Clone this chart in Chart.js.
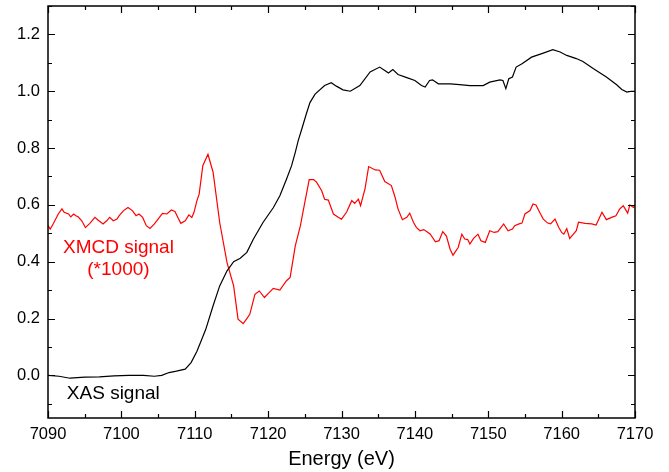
<!DOCTYPE html>
<html>
<head>
<meta charset="utf-8">
<script src="https://cdn.jsdelivr.net/npm/chart.js@4.4.1/dist/chart.umd.min.js"></script>
<style>
  html, body { margin: 0; padding: 0; background: #fff; }
  #chart { display: block; }
</style>
</head>
<body>
<canvas id="chart" width="669" height="472"></canvas>
<script>
// XAS (normalised absorption) vs energy
const xasEnergy = [
  7090, 7091.5, 7093, 7095, 7097, 7099, 7101, 7103, 7104.5, 7105.5,
  7106.5, 7107.5, 7108.7, 7109.5, 7110.3, 7111.0, 7111.5, 7112.5, 7113.4, 7114.4,
  7115.3, 7116.2, 7117.1, 7118.0, 7119.3, 7120.7, 7121.6, 7122.5, 7123.2, 7123.7,
  7124.1, 7124.6, 7125.2, 7125.7, 7126.4, 7127.7, 7128.6, 7129.3, 7130.2, 7131.2,
  7132.5, 7133.9, 7135.2, 7135.9, 7136.4, 7137.0, 7137.7, 7138.9, 7140.0, 7140.9,
  7141.4, 7142.0, 7142.4, 7143.2, 7144.8, 7146.1, 7147.5, 7149.3, 7150.2, 7151.6,
  7152.0, 7152.4, 7152.8, 7153.3, 7153.8, 7154.6, 7155.9, 7157.5, 7158.8, 7159.8,
  7160.7, 7162.0, 7162.9, 7164.3, 7166.1, 7167.5, 7168.2, 7168.9, 7169.5, 7170];
const xasValue = [
  0.0, -0.003, -0.01, -0.006, -0.005, -0.002, 0.0, 0.0, -0.003, 0.0,
  0.01, 0.015, 0.022, 0.045, 0.085, 0.13, 0.162, 0.245, 0.315, 0.368,
  0.40, 0.412, 0.433, 0.48, 0.538, 0.59, 0.632, 0.69, 0.738, 0.785,
  0.826, 0.868, 0.92, 0.96, 0.99, 1.02, 1.03, 1.018, 1.005, 1.0,
  1.02, 1.068, 1.085, 1.073, 1.064, 1.076, 1.059, 1.048, 1.038, 1.02,
  1.015, 1.038, 1.04, 1.026, 1.026, 1.023, 1.02, 1.02, 1.032, 1.04,
  1.038, 1.009, 1.044, 1.05, 1.085, 1.097, 1.12, 1.134, 1.146, 1.138,
  1.126, 1.115, 1.105, 1.08, 1.05, 1.023, 1.006, 0.997, 1.0, 1.0];

// XMCD (scaled by 1000) vs energy
const xmcdEnergy = [
  7090.0, 7090.3, 7090.7, 7091.4, 7091.9, 7092.2, 7092.8, 7093.1, 7093.5, 7093.8,
  7094.1, 7094.6, 7095.1, 7095.7, 7096.4, 7096.8, 7097.2, 7097.5, 7098.0, 7098.4,
  7098.9, 7099.4, 7099.7, 7100.3, 7100.9, 7101.5, 7102.0, 7102.4, 7102.9, 7103.4,
  7103.9, 7104.5, 7105.0, 7105.6, 7106.2, 7106.8, 7107.3, 7107.7, 7108.1, 7108.7,
  7109.2, 7109.6, 7109.9, 7110.3, 7110.6, 7111.1, 7111.8, 7112.5, 7113.4, 7114.4,
  7115.3, 7115.9, 7116.6, 7117.1, 7117.5, 7118.2, 7118.8, 7119.5, 7120.0, 7120.7,
  7121.6, 7122.5, 7123.0, 7123.7, 7124.4, 7125.0, 7125.6, 7126.2, 7126.6, 7127.3,
  7127.7, 7128.2, 7128.9, 7129.6, 7130.0, 7130.7, 7131.4, 7131.8, 7132.3, 7132.6,
  7133.2, 7133.7, 7134.6, 7135.2, 7135.9, 7136.8, 7137.3, 7137.7, 7138.3, 7138.9,
  7139.3, 7139.8, 7140.2, 7140.7, 7141.2, 7141.6, 7142.1, 7142.8, 7143.3, 7143.8,
  7144.3, 7144.8, 7145.2, 7145.9, 7146.4, 7146.8, 7147.2, 7147.5, 7148.0, 7148.6,
  7149.0, 7149.6, 7150.2, 7150.8, 7151.3, 7152.1, 7152.7, 7153.3, 7153.6, 7154.2,
  7154.6, 7155.0, 7155.7, 7156.1, 7156.5, 7157.0, 7157.5, 7158.1, 7158.5, 7159.1,
  7159.6, 7160.0, 7160.3, 7160.7, 7161.1, 7161.6, 7162.0, 7162.3, 7163.2, 7164.1,
  7164.7, 7165.5, 7166.1, 7166.8, 7167.4, 7167.9, 7168.4, 7169.0, 7169.3, 7169.8,
  7170.0];
const xmcdValue = [
  0.527, 0.515, 0.533, 0.568, 0.586, 0.574, 0.568, 0.558, 0.568, 0.562,
  0.558, 0.544, 0.52, 0.535, 0.556, 0.547, 0.539, 0.533, 0.544, 0.556,
  0.544, 0.55, 0.562, 0.58, 0.591, 0.58, 0.562, 0.568, 0.556, 0.527,
  0.517, 0.533, 0.55, 0.57, 0.568, 0.582, 0.577, 0.556, 0.535, 0.544,
  0.565, 0.556, 0.574, 0.615, 0.638, 0.738, 0.778, 0.715, 0.538, 0.397,
  0.315, 0.198, 0.182, 0.2, 0.215, 0.285, 0.297, 0.274, 0.288, 0.306,
  0.3, 0.333, 0.345, 0.456, 0.527, 0.609, 0.689, 0.689, 0.68, 0.65,
  0.62, 0.617, 0.568, 0.556, 0.55, 0.575, 0.615, 0.605, 0.62, 0.597,
  0.656, 0.735, 0.723, 0.722, 0.682, 0.668, 0.627, 0.586, 0.548, 0.556,
  0.571, 0.539, 0.521, 0.509, 0.513, 0.506, 0.497, 0.47, 0.474, 0.506,
  0.49, 0.444, 0.423, 0.45, 0.497, 0.48, 0.478, 0.462, 0.482, 0.497,
  0.474, 0.468, 0.509, 0.503, 0.506, 0.533, 0.509, 0.515, 0.527, 0.533,
  0.536, 0.568, 0.58, 0.603, 0.6, 0.574, 0.55, 0.536, 0.533, 0.55,
  0.521, 0.503, 0.497, 0.517, 0.482, 0.497, 0.509, 0.539, 0.535, 0.533,
  0.529, 0.574, 0.548, 0.556, 0.562, 0.585, 0.597, 0.571, 0.6, 0.591,
  0.6];

const yTicks = [0.0, 0.2, 0.4, 0.6, 0.8, 1.0, 1.2];

const FONT = "'Liberation Sans', Arial, sans-serif";

function toPoints(xs, ys) {
  return xs.map((x, i) => ({ x: x, y: ys[i] }));
}

// frame with inward ticks on all four sides + curve labels
const framePlugin = {
  id: "frame",
  afterDatasetsDraw(chart) {
    const { ctx, chartArea: a, scales: { x, y } } = chart;
    ctx.save();
    ctx.strokeStyle = "#000";
    ctx.lineWidth = 1.5;
    ctx.strokeRect(a.left, a.top, a.right - a.left, a.bottom - a.top);

    ctx.lineWidth = 1.2;
    ctx.beginPath();
    for (let e = 7090; e <= 7170; e += 5) {
      const px = Math.round(x.getPixelForValue(e)) + 0.5;
      const len = e % 10 === 0 ? 7 : 4;
      ctx.moveTo(px, a.bottom); ctx.lineTo(px, a.bottom - len);
      ctx.moveTo(px, a.top); ctx.lineTo(px, a.top + len);
    }
    for (let v = -0.1; v <= 1.3; v += 0.1) {
      const val = Math.round(v * 10) / 10;
      const py = Math.round(y.getPixelForValue(val)) + 0.5;
      const len = Math.round(val * 10) % 2 === 0 ? 7 : 4;
      ctx.moveTo(a.left, py); ctx.lineTo(a.left + len, py);
      ctx.moveTo(a.right, py); ctx.lineTo(a.right - len, py);
    }
    ctx.stroke();

    ctx.font = "19px " + FONT;
    ctx.textAlign = "center";
    ctx.textBaseline = "middle";
    ctx.fillStyle = "#ff0000";
    ctx.fillText("XMCD signal", x.getPixelForValue(7099.6), y.getPixelForValue(0.448));
    ctx.fillText("(*1000)", x.getPixelForValue(7099.6), y.getPixelForValue(0.37));
    ctx.fillStyle = "#000";
    ctx.fillText("XAS signal", x.getPixelForValue(7098.9), y.getPixelForValue(-0.063));
    ctx.restore();
  }
};

new Chart(document.getElementById("chart"), {
  type: "line",
  data: {
    datasets: [
      {
        label: "XAS signal",
        data: toPoints(xasEnergy, xasValue),
        borderColor: "#000",
        borderWidth: 1.2,
        pointRadius: 0,
        tension: 0
      },
      {
        label: "XMCD signal (*1000)",
        data: toPoints(xmcdEnergy, xmcdValue),
        borderColor: "#ff0000",
        borderWidth: 1.2,
        pointRadius: 0,
        tension: 0
      }
    ]
  },
  options: {
    responsive: false,
    animation: false,
    layout: { padding: { left: 0, right: 34, top: 6, bottom: 0 } },
    plugins: {
      legend: { display: false },
      tooltip: { enabled: false }
    },
    scales: {
      x: {
        type: "linear",
        min: 7090,
        max: 7170,
        grid: { display: false, drawTicks: false },
        border: { display: false },
        ticks: {
          stepSize: 10,
          padding: 7,
          color: "#000",
          font: { family: FONT, size: 16.5 },
          callback: v => v
        },
        title: {
          display: true,
          text: "Energy (eV)",
          color: "#000",
          font: { family: FONT, size: 20 },
          padding: { top: 0, bottom: 1 }
        },
        afterFit: s => {
          s.height = 54;
          s.paddingLeft = 0;
          s.paddingRight = 0;
        }
      },
      y: {
        min: -0.15,
        max: 1.3,
        grid: { display: false, drawTicks: false },
        border: { display: false },
        afterBuildTicks: s => { s.ticks = yTicks.map(v => ({ value: v })); },
        ticks: {
          padding: 8,
          color: "#000",
          font: { family: FONT, size: 16.5 },
          callback: v => v.toFixed(1)
        },
        afterFit: s => {
          s.width = 48;
          s.paddingTop = 0;
          s.paddingBottom = 0;
        }
      }
    }
  },
  plugins: [framePlugin]
});
</script>
</body>
</html>
